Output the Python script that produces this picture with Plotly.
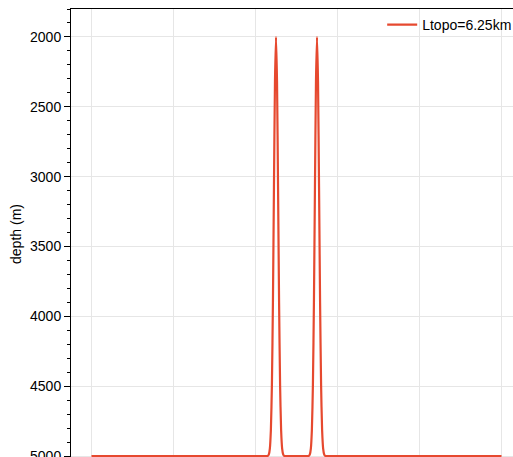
import plotly.graph_objects as go

# Bathymetric profile: horizontal distance (km) and seafloor depth (m)
x_km = [
    0.0,
    42.5, 42.75, 43.0, 43.25, 43.5, 43.75, 44.0, 44.25, 44.5, 44.75, 45.0,
    45.25, 45.5, 45.75, 46.0, 46.25, 46.5, 46.75, 47.0, 47.25, 47.5,
    52.5, 52.75, 53.0, 53.25, 53.5, 53.75, 54.0, 54.25, 54.5, 54.75, 55.0,
    55.25, 55.5, 55.75, 56.0, 56.25, 56.5, 56.75, 57.0, 57.25, 57.5,
    100.0,
]
depth_m = [
    5000,
    5000, 5000, 4998, 4987, 4945, 4814, 4494, 3898, 3077, 2316, 2000,
    2316, 3077, 3898, 4494, 4814, 4945, 4987, 4998, 5000, 5000,
    5000, 5000, 4998, 4987, 4945, 4814, 4494, 3898, 3077, 2316, 2000,
    2316, 3077, 3898, 4494, 4814, 4945, 4987, 4998, 5000, 5000,
    5000,
]
series_name = "Ltopo=6.25km"
depth_ticks = [2000, 2500, 3000, 3500, 4000, 4500, 5000]
distance_ticks = [0, 20, 40, 60, 80, 100]

GRID = "#e6e6e6"
LINE = "#e6492f"

fig = go.Figure(
    go.Scatter(
        x=x_km,
        y=depth_m,
        mode="lines",
        name=series_name,
        line=dict(color=LINE, width=2.2, shape="spline", smoothing=0.6),
    )
)

fig.update_layout(
    width=560,
    height=520,
    margin=dict(l=71, r=38, t=9, b=61, autoexpand=False),
    paper_bgcolor="white",
    plot_bgcolor="white",
    font=dict(family="Liberation Sans, Arial, sans-serif", size=14, color="black"),
    showlegend=True,
    legend=dict(
        x=0.690,
        y=1.0,
        xanchor="left",
        yanchor="top",
        bgcolor="rgba(0,0,0,0)",
        font=dict(size=14),
    ),
)

fig.update_xaxes(
    range=[-5, 105],
    tickvals=distance_ticks,
    showticklabels=False,
    showgrid=True,
    gridcolor=GRID,
    gridwidth=1,
    zeroline=False,
    showline=True,
    linecolor="black",
    linewidth=1,
    mirror=True,
    ticks="outside",
    ticklen=6,
    tickcolor="black",
)

fig.update_yaxes(
    range=[5020, 1800],
    tickvals=depth_ticks,
    showgrid=True,
    gridcolor=GRID,
    gridwidth=1,
    zeroline=False,
    showline=True,
    linecolor="black",
    linewidth=1,
    mirror=True,
    ticks="outside",
    ticklen=6,
    tickcolor="black",
    minor=dict(dtick=100, tick0=0, ticks="outside", ticklen=3, tickcolor="black", showgrid=False),
    title=dict(text="depth (m)", font=dict(size=14), standoff=5),
)

fig.write_html(
    "out.html",
    post_script=(
        "document.body.style.margin='0';"
        "document.body.style.overflow='hidden';"
        "document.documentElement.style.overflow='hidden';"
    ),
)
